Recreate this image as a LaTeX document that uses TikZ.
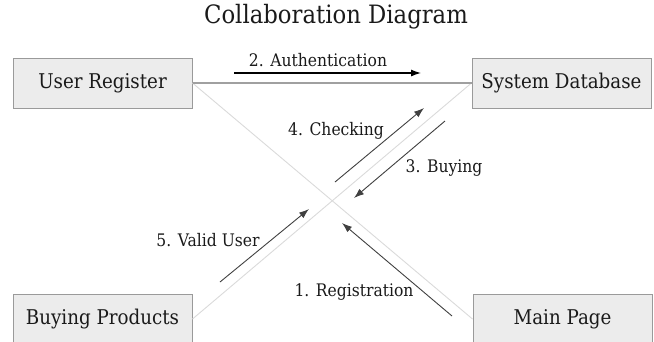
\documentclass[tikz,border=0pt]{standalone}
\usepackage{fontspec}
\setmainfont{DejaVu Serif}[FakeStretch=0.9]
\usetikzlibrary{arrows.meta}
\definecolor{boxfill}{HTML}{ECECEC}
\definecolor{boxline}{HTML}{9A9A9A}
\definecolor{linkmid}{HTML}{A0A0A0}
\definecolor{linklight}{HTML}{DADADA}
\definecolor{msgdark}{HTML}{404040}
\definecolor{txt}{HTML}{1A1A1A}
\tikzset{
  objbox/.style={draw=boxline, fill=boxfill, line width=1pt, minimum width=179pt, minimum height=50pt, inner sep=0pt, text=txt, font=\fontsize{20.3}{22}\selectfont},
  linkmain/.style={draw=linkmid, line width=1.3pt},
  linkdiag/.style={draw=linklight, line width=0.9pt},
  msgarrow/.style={draw=msgdark, line width=0.9pt, -{Latex[length=10pt,width=7pt]}},
  msgarrowblack/.style={draw=black, line width=1.2pt, -{Latex[length=10pt,width=7pt]}},
  msglabel/.style={font=\fontsize{17.3}{20}\selectfont, inner sep=0pt, text=txt},
}
\begin{document}
\begin{tikzpicture}[x=1pt,y=-1pt]
\useasboundingbox (0,0) rectangle (654,341);
\node[font=\fontsize{25.3}{28}\selectfont, inner sep=0pt, text=txt] (title) at (336,17) {Collaboration Diagram};

\node[objbox] (ur) at (102.5,83) {User Register};
\node[objbox] (sd) at (561.5,83) {System Database};
\node[objbox] (bp) at (102.5,319) {Buying Products};
\node[objbox] (mp) at (562.5,319) {Main Page};

\draw[linkdiag] (ur.east) -- (mp.west);
\draw[linkdiag] (bp.east) -- (sd.west);
\draw[linkmain] (ur.east) -- (sd.west);

% message arrow end points
\coordinate (a2s) at (234,73);
\coordinate (a2e) at (421,73);
\coordinate (a4s) at (335,182);
\coordinate (a4e) at (424,108);
\coordinate (a3s) at (445,121);
\coordinate (a3e) at (354,198);
\coordinate (a5s) at (220,282);
\coordinate (a5e) at (309,209);
\coordinate (a1s) at (452,316);
\coordinate (a1e) at (342,223);

\draw[msgarrowblack] (a2s) -- (a2e);
\draw[msgarrow] (a4s) -- (a4e);
\draw[msgarrow] (a3s) -- (a3e);
\draw[msgarrow] (a5s) -- (a5e);
\draw[msgarrow] (a1s) -- (a1e);

\node[msglabel] (l2) at (318,60) {2. Authentication};
\node[msglabel] (l4) at (336,131) {4. Checking};
\node[msglabel] (l3) at (444,168) {3. Buying};
\node[msglabel] (l5) at (208,240) {5. Valid User};
\node[msglabel] (l1) at (354,292) {1. Registration};
\end{tikzpicture}
\end{document}
